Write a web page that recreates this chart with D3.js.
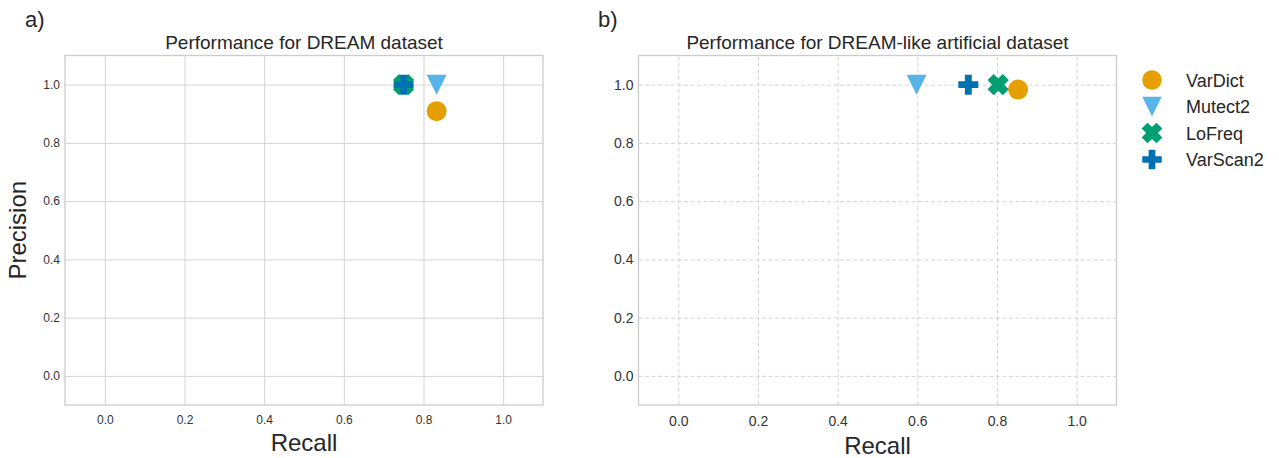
<!DOCTYPE html>
<html><head><meta charset="utf-8">
<script src="https://cdn.jsdelivr.net/npm/d3@7"></script>
<style>body{margin:0;background:#fff;} svg{display:block;font-family:"Liberation Sans",Arial,sans-serif;}</style>
</head><body><svg id="c" width="1279" height="458"></svg>
<script>
// ---- data ----
const tools = ["VarDict", "Mutect2", "LoFreq", "VarScan2"];
const colors = ["#E69F00", "#56B4E9", "#009E73", "#0072B2"];
const dreamRecall = [0.833, 0.833, 0.75, 0.75];
const dreamPrecision = [0.909, 1.0, 1.0, 1.0];
const artRecall = [0.853, 0.598, 0.803, 0.728];
const artPrecision = [0.983, 1.0, 1.0, 1.0];
const tickValues = [0.0, 0.2, 0.4, 0.6, 0.8, 1.0];
const titles = ["Performance for DREAM dataset", "Performance for DREAM-like artificial dataset"];
const panelLabels = ["a)", "b)"];

// ---- marker shapes (matplotlib-like: o, v, X, P) ----
const circleT = {draw(ctx, s){ const r = Math.sqrt(s/Math.PI); ctx.moveTo(r,0); ctx.arc(0,0,r,0,2*Math.PI);} };
const triDownT = {draw(ctx, s){ const h = Math.sqrt(s)*0.5;
  ctx.moveTo(-h,-h); ctx.lineTo(h,-h); ctx.lineTo(0,h); ctx.closePath(); } };
function crossPts(s, k){ const a = Math.sqrt(s)/2; const t = a/k;
  return [[-t,-a],[t,-a],[t,-t],[a,-t],[a,t],[t,t],[t,a],[-t,a],[-t,t],[-a,t],[-a,-t],[-t,-t]]; }
const plusT = {draw(ctx, s){ const p = crossPts(s, 2.9); ctx.moveTo(p[0][0],p[0][1]); p.slice(1).forEach(q=>ctx.lineTo(q[0],q[1])); ctx.closePath(); } };
const xT = {draw(ctx, s){ const p = crossPts(s*1.15, 2.5).map(([x,y])=>[(x-y)/Math.SQRT2,(x+y)/Math.SQRT2]); ctx.moveTo(p[0][0],p[0][1]); p.slice(1).forEach(q=>ctx.lineTo(q[0],q[1])); ctx.closePath(); } };
const shapes = [circleT, triDownT, xT, plusT];
const sizes = [314, 400, 400, 400];

const svg = d3.select("#c");
const plotTop = 55.5, plotBottom = 405;
const panels = [
  {x0: 65, x1: 543, recall: dreamRecall, precision: dreamPrecision, dashed: false, xlabY: 451, labX: 25, tickFs: 12, xPad: 10},
  {x0: 638.5, x1: 1116.5, recall: artRecall, precision: artPrecision, dashed: true, xlabY: 454, labX: 598, tickFs: 14, xPad: 11}
];

panels.forEach((p, i) => {
  const x = d3.scaleLinear().domain([-0.1, 1.1]).range([p.x0, p.x1]);
  const y = d3.scaleLinear().domain([-0.1, 1.1]).range([plotBottom, plotTop]);
  const g = svg.append("g");
  const gx = g.append("g").attr("transform", `translate(0,${plotBottom})`)
    .call(d3.axisBottom(x).tickValues(tickValues).tickFormat(d3.format(".1f")).tickSize(-(plotBottom-plotTop)).tickPadding(p.xPad));
  const gy = g.append("g").attr("transform", `translate(${p.x0},0)`)
    .call(d3.axisLeft(y).tickValues(tickValues).tickFormat(d3.format(".1f")).tickSize(-(p.x1-p.x0)).tickPadding(5));
  [gx, gy].forEach(a => {
    a.select(".domain").remove();
    a.selectAll(".tick line").attr("stroke", "#d4d4d4").attr("stroke-width", 1)
      .attr("stroke-dasharray", p.dashed ? "4,2.5" : null);
    a.selectAll(".tick text").attr("fill", "#333").style("font-size", p.tickFs + "px").style("font-family", "'Liberation Sans',Arial,sans-serif");
  });
  g.append("rect").attr("x", p.x0).attr("y", plotTop).attr("width", p.x1-p.x0).attr("height", plotBottom-plotTop)
    .attr("fill", "none").attr("stroke", "#cccccc").attr("stroke-width", 1.3);
  tools.forEach((t, k) => {
    g.append("path").attr("d", d3.symbol().type(shapes[k]).size(sizes[k])())
      .attr("transform", `translate(${x(p.recall[k])},${y(p.precision[k])})`)
      .attr("fill", colors[k]);
  });
  g.append("text").attr("x", (p.x0+p.x1)/2).attr("y", 49).attr("text-anchor", "middle")
    .attr("fill", "#262626").style("font-size", "19px").text(titles[i]);
  g.append("text").attr("x", (p.x0+p.x1)/2).attr("y", p.xlabY).attr("text-anchor", "middle")
    .attr("fill", "#262626").style("font-size", "24px").text("Recall");
  svg.append("text").attr("x", p.labX).attr("y", 27).attr("fill", "#262626").style("font-size", "22px").text(panelLabels[i]);
});

svg.append("text").attr("transform", `translate(26,${(plotTop+plotBottom)/2}) rotate(-90)`).attr("text-anchor", "middle")
  .attr("fill", "#262626").style("font-size", "24px").text("Precision");

const lg = svg.append("g");
tools.forEach((t, k) => {
  const yy = 80 + k*26.5;
  lg.append("path").attr("d", d3.symbol().type(shapes[k]).size(sizes[k]*0.95)())
    .attr("transform", `translate(1152,${yy})`).attr("fill", colors[k]);
  lg.append("text").attr("x", 1186).attr("y", yy + 6.5).attr("fill", "#262626").style("font-size", "18px").text(t);
});
</script></body></html>
